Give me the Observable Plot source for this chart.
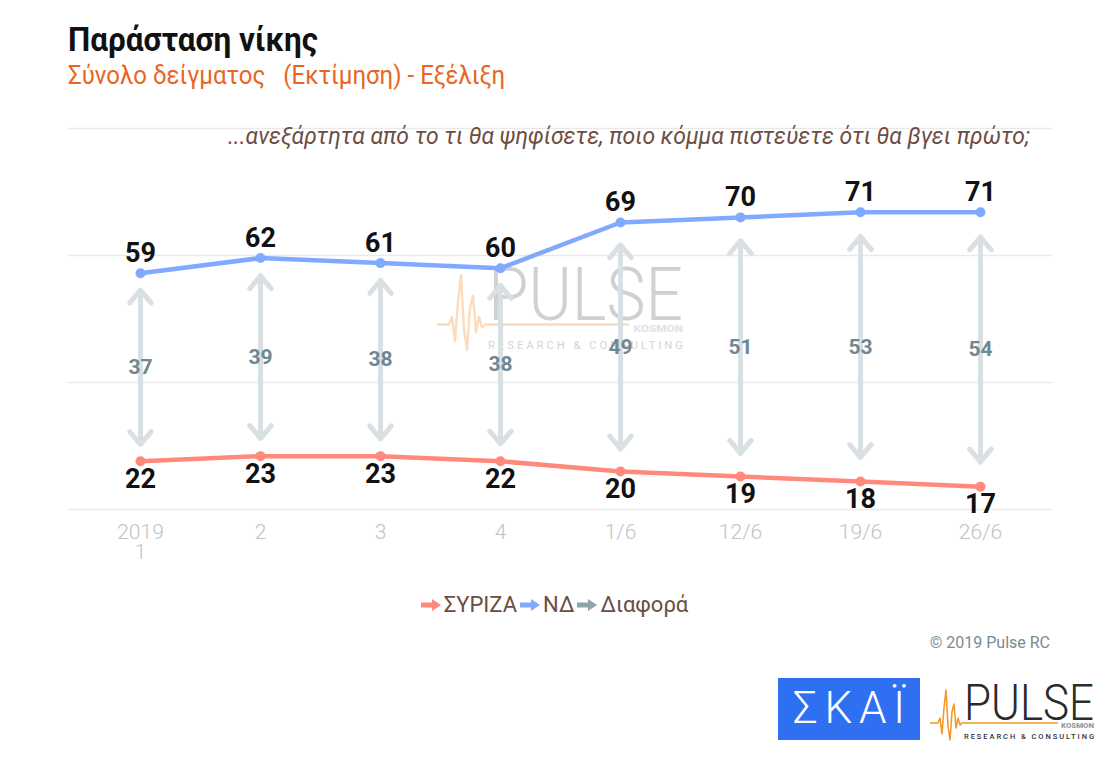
<!DOCTYPE html>
<html><head><meta charset="utf-8">
<script src="https://cdn.jsdelivr.net/npm/d3@7"></script>
<script src="https://cdn.jsdelivr.net/npm/@observablehq/plot@0.6"></script>
<style>
html,body{margin:0;padding:0;background:#fff}
body{width:1108px;height:758px;position:relative;overflow:hidden;font-family:Roboto,"Noto Sans",sans-serif}
.abs{position:absolute;white-space:nowrap;line-height:1}
#title{left:68px;top:22px;font-weight:700;font-size:34px;color:#111}
#subtitle{left:68px;top:62px;font-size:26px;color:#e8661f}
#question{right:78px;top:124px;font-style:italic;font-size:24px;color:#6e4d43}
#watermark{left:437px;top:257px}
#chart{left:0;top:100px}
#legend{left:0;width:1108px;top:594px;display:flex;justify-content:center;align-items:center;font-size:22px;color:#6b4d44}
#legend .item{display:flex;align-items:center;margin:0 1px}
#legend svg{margin-right:2px}
#copy{right:58px;top:635px;font-size:16px;color:#7b8a90}
#skai{left:778px;top:678px;width:142px;height:62px;background:#2f6ff2}
#pulse{left:930px;top:678px}
svg{overflow:visible}
</style></head><body>
<div id="watermark" class="abs"></div>
<div id="chart" class="abs"></div>
<div id="title" class="abs">Παράσταση νίκης</div>
<div id="subtitle" class="abs">Σύνολο δείγματος&nbsp;&nbsp;&nbsp;(Εκτίμηση) - Εξέλιξη</div>
<div id="question" class="abs">...ανεξάρτητα από το τι θα ψηφίσετε, ποιο κόμμα πιστεύετε ότι θα βγει πρώτο;</div>
<div id="legend" class="abs"></div>
<div id="copy" class="abs">© 2019 Pulse RC</div>
<div id="skai" class="abs"></div>
<div id="pulse" class="abs"></div>
<script>
// ---- data ----
const periods = ["2019\n1", "2", "3", "4", "1/6", "12/6", "19/6", "26/6"];
const syriza = [22, 23, 23, 22, 20, 19, 18, 17];
const nd = [59, 62, 61, 60, 69, 70, 71, 71];
const diff = [37, 39, 38, 38, 49, 51, 53, 54];
const gridValues = [12.5, 37.5, 62.5, 87.5];
const seriesNames = ["ΣΥΡΙΖΑ", "ΝΔ", "Διαφορά"];
const seriesColors = ["#ff8a7c", "#80aaff", "#8fa3ab"];

// ---- helpers ----
function fitX(el, target, origin) {
  const w = el.getBoundingClientRect().width;
  el.style.transformOrigin = origin;
  el.style.transform = `scaleX(${target / w})`;
}

function pulseLogo(scale, opts) {
  const s = scale;
  return `<svg width="${172 * s}" height="${64 * s}" viewBox="0 0 172 64" style="display:block">
    <polyline fill="none" stroke="${opts.orange}" stroke-width="1.6" stroke-linejoin="round"
      points="0,45 8,45 10,40 12,56 14,30 16,12 18,48 20,62 22,34 24,26 26,50 28,40 30,47 32,45 128,45"/>
    <text x="34" y="42" font-family="Roboto" font-weight="300" font-size="50" fill="${opts.dark}" textLength="130" lengthAdjust="spacingAndGlyphs">PULSE</text>
    <text x="131" y="50" font-family="Roboto" font-weight="900" font-size="6.5" fill="${opts.kosmon}" textLength="33" lengthAdjust="spacingAndGlyphs">KOSMON</text>
    <text x="34" y="61" font-family="Roboto" font-weight="${opts.rw}" font-size="7.5" fill="${opts.rc}" textLength="130" lengthAdjust="spacing">RESEARCH &amp; CONSULTING</text>
  </svg>`;
}

// ---- table ----
const rows = periods.map((p, i) => ({
  p, syr: syriza[i], nd: nd[i], diff: diff[i],
  mid: (syriza[i] + nd[i]) / 2,
  top: nd[i] - 0.09 * diff[i],
  bot: syriza[i] + 0.09 * diff[i]
}));
const long = [
  ...rows.map(d => ({p: d.p, v: d.syr, s: seriesNames[0]})),
  ...rows.map(d => ({p: d.p, v: d.nd, s: seriesNames[1]}))
];
const arrowColor = "#d8e0e3";

const chart = Plot.plot({
  width: 1108, height: 480,
  marginLeft: 68, marginRight: 56, marginTop: 28, marginBottom: 71,
  x: {type: "point", domain: periods, padding: 0.6, label: null},
  y: {domain: [12.5, 87.5], axis: null},
  color: {domain: seriesNames, range: seriesColors},
  style: {background: "transparent", overflow: "visible", fontFamily: "Roboto", color: "#c4c4c4"},
  marks: [
    Plot.ruleY(gridValues, {stroke: "#e9e9e9", strokeWidth: 1.3}),
    Plot.axisX({tickSize: 0, tickPadding: 15, fontSize: 21, fontWeight: 300,
      fontFamily: "Liberation Sans Narrow, Roboto", fill: "#c2c2c2", lineHeight: 0.95, label: null}),
    Plot.arrow(rows, {x1: "p", x2: "p", y1: "top", y2: "bot", stroke: arrowColor,
      strokeWidth: 5, headLength: 5, headAngle: 80}),
    Plot.arrow(rows, {x1: "p", x2: "p", y1: "bot", y2: "top", stroke: arrowColor,
      strokeWidth: 5, headLength: 5, headAngle: 80}),
    Plot.text(rows, {x: "p", y: "mid", text: "diff", fill: "#6f8793", fontSize: 21, fontWeight: 700}),
    Plot.line(long, {x: "p", y: "v", z: "s", stroke: "s", strokeWidth: 4.5, curve: "linear"}),
    Plot.dot(long, {x: "p", y: "v", fill: "s", r: 5}),
    Plot.text(rows, {x: "p", y: "nd", text: "nd", dy: -20, fill: "#111", fontSize: 27, fontWeight: 700}),
    Plot.text(rows, {x: "p", y: "syr", text: "syr", dy: 18, fill: "#111", fontSize: 27, fontWeight: 700})
  ]
});
document.getElementById("chart").appendChild(chart);

// ---- legend ----
const legend = document.getElementById("legend");
seriesNames.forEach((name, i) => {
  const item = document.createElement("div");
  item.className = "item";
  item.innerHTML = `<svg width="22" height="14" viewBox="0 0 22 14"><path d="M1,4.5 H12 V1 L21,7 L12,13 V9.5 H1 Z" fill="${seriesColors[i]}"/></svg><span>${name}</span>`;
  legend.appendChild(item);
});

// ---- logos ----
document.getElementById("watermark").innerHTML = pulseLogo(1.5, {orange: "#fbdcbc", dark: "#d0d0d0", kosmon: "#e4e4e4", rc: "#d4d4d4", rw: 400});
document.getElementById("pulse").innerHTML = pulseLogo(1, {orange: "#f39a2b", dark: "#2b2b2b", kosmon: "#9a9a9a", rc: "#333", rw: 500});
document.getElementById("skai").innerHTML = `<svg width="142" height="62" viewBox="0 0 142 62"><text x="71" y="45" text-anchor="middle" font-family="Roboto" font-weight="300" font-size="44" fill="#fff" textLength="112" lengthAdjust="spacing">ΣΚΑΪ</text></svg>`;

// ---- fit text widths ----
fitX(document.getElementById("title"), 250, "left");
fitX(document.getElementById("subtitle"), 437, "left");
fitX(document.getElementById("question"), 802, "right");
</script>
</body></html>
